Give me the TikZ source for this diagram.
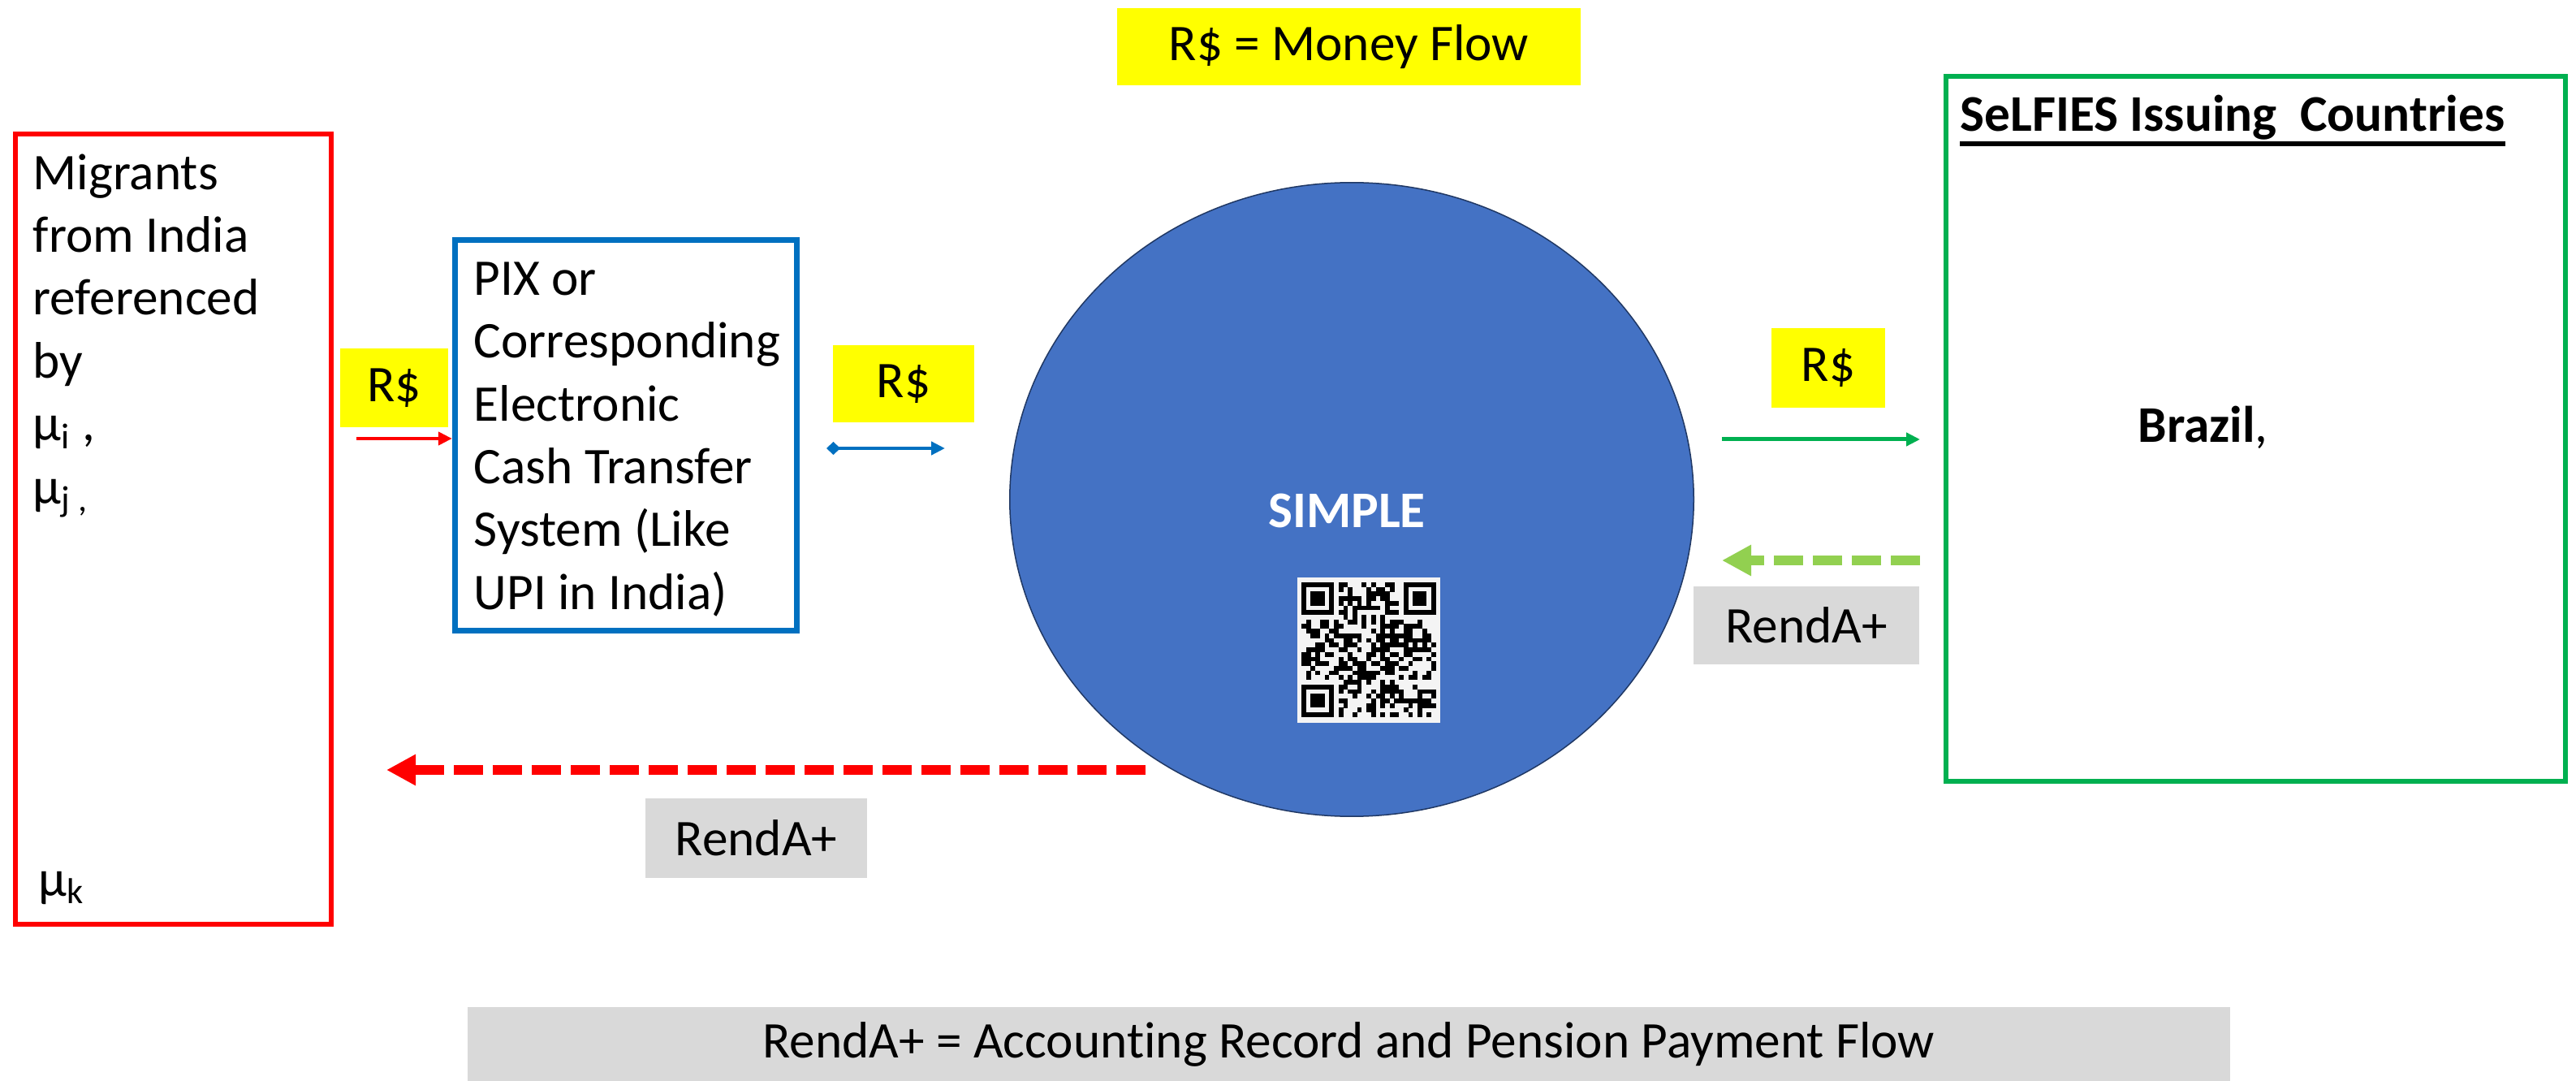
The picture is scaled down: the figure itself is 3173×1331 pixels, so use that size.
\documentclass[tikz,border=0pt]{standalone}
\usepackage{fontspec}
\setmainfont{Carlito}[Ligatures=NoCommon]
\usetikzlibrary{arrows.meta,shapes.geometric}

\definecolor{selfred}{HTML}{FF0000}
\definecolor{pixblue}{HTML}{0070C0}
\definecolor{simpleblue}{HTML}{4472C4}
\definecolor{simpleedge}{HTML}{203864}
\definecolor{selfiesgreen}{HTML}{00B050}
\definecolor{rendagreen}{HTML}{92D050}
\definecolor{moneyyellow}{HTML}{FFFF00}
\definecolor{rendagrey}{HTML}{D9D9D9}
\definecolor{qrwhite}{HTML}{F4F4F4}

\tikzstyle{flowbox}=[draw, inner sep=0pt]
\tikzstyle{boxtext}=[anchor=north west, align=left, inner sep=0pt]
\tikzstyle{money}=[fill=moneyyellow, inner sep=0pt]
\tikzstyle{renda}=[fill=rendagrey, inner sep=0pt]
\tikzstyle{cash}=[line width=0.045cm, -{Triangle[length=0.17cm,width=0.16cm]}]
\tikzstyle{record}=[line width=0.12cm, dash pattern=on 0.36cm off 0.12cm, -{Triangle[length=0.36cm,width=0.36cm]}]

\begin{document}
\begin{tikzpicture}[x=0.01cm, y=-0.01cm, font=\fontsize{18}{22}\selectfont]
  \useasboundingbox (0,0) rectangle (3173,1331);

  \node[money, minimum width=5.71cm, minimum height=0.95cm] (moneykey) at (1661.5,57.5) {R\$ = Money Flow};

  \node[flowbox, draw=selfred, line width=0.06cm, minimum width=3.89cm, minimum height=9.73cm] (migrants) at (213.5,651.5) {};
  \node[boxtext] (migtext) at (40,189) {Migrants\\from India\\referenced\\by\\μ\textsubscript{i} ,\\μ\textsubscript{j ,}};
  \node[anchor=west, inner sep=0pt] (muk) at (47,1093) {μ\textsubscript{k}};

  \node[flowbox, draw=pixblue, line width=0.07cm, minimum width=4.21cm, minimum height=4.81cm] (pix) at (771,536) {};
  \node[boxtext] (pixtext) at (583,322) {PIX or\\Corresponding\\Electronic\\Cash Transfer\\System (Like\\UPI in India)};

  \node[money, minimum width=1.33cm, minimum height=0.97cm] (rsmig) at (485.5,477.5) {R\$};
  \node[money, minimum width=1.74cm, minimum height=0.95cm] (rspix) at (1113,472.5) {R\$};
  \node[money, minimum width=1.40cm, minimum height=0.98cm] (rsselfies) at (2252,453) {R\$};

  \node[ellipse, fill=simpleblue, draw=simpleedge, line width=0.015cm, minimum width=8.42cm, minimum height=7.8cm, inner sep=0pt] (simple) at (1665,615) {};
  \node[text=white] (simplelabel) at (1659,629) {\textbf{SIMPLE}};

  \fill[qrwhite] (1598,711) rectangle (1774,890);
  \pgfmathsetseed{2024}
  \foreach \r in {0,...,28} {
    \foreach \c in {0,...,28} {
      \pgfmathtruncatemacro\qrfin{(\r<8)*(\c<8)+(\r<8)*(\c>20)+(\r>20)*(\c<8)}
      \pgfmathtruncatemacro\qrbit{rnd<0.5}
      \ifnum\qrbit=1 \ifnum\qrfin=0
        \fill (1603+\c*5.72, 717+\r*5.72) rectangle ++(5.8,5.8);
      \fi\fi
    }
  }
  \foreach \fx/\fy in {0/0, 22/0, 0/22} {
    \fill (1603+\fx*5.72, 717+\fy*5.72) rectangle ++(40.04,40.04);
    \fill[qrwhite] (1608.72+\fx*5.72, 722.72+\fy*5.72) rectangle ++(28.6,28.6);
    \fill (1614.44+\fx*5.72, 728.44+\fy*5.72) rectangle ++(17.16,17.16);
  }

  \node[flowbox, draw=selfiesgreen, line width=0.06cm, minimum width=7.63cm, minimum height=8.68cm] (selfies) at (2778.5,528) {};
  \node[anchor=base west, inner sep=0pt] (selfiestitle) at (2414,162) {\textbf{SeLFIES Issuing\ \ Countries}};
  \draw[line width=0.05cm] ([yshift=-0.15cm]selfiestitle.base west) -- ([yshift=-0.15cm]selfiestitle.base east);
  \node[anchor=base west, inner sep=0pt] (brazil) at (2633,545) {\textbf{Brazil},};

  \node[renda, minimum width=2.78cm, minimum height=0.96cm] (rendaselfies) at (2225,770) {RendA+};
  \node[renda, minimum width=2.73cm, minimum height=0.98cm] (rendamig) at (931.5,1032) {RendA+};
  \node[renda, minimum width=21.69cm, minimum height=0.91cm] (rendakey) at (1661.5,1285.5) {RendA+ = Accounting Record and Pension Payment Flow};

  \coordinate (migout) at (439,540);
  \coordinate (pixout) at (1018,552);
  \coordinate (simplein) at (1164,552);
  \coordinate (simpleout) at (2121,541);
  \coordinate (selfiesin) at (2365,541);
  \coordinate (selfiesout) at (2365,690);
  \coordinate (simpleback) at (2121,690);
  \coordinate (simplerecord) at (1411,948);
  \coordinate (migrecord) at (476,948);

  \draw[cash, selfred] (migout) -- (migout -| pix.west);
  \draw[cash, pixblue, {Diamond[length=0.17cm,width=0.16cm]}-{Triangle[length=0.17cm,width=0.16cm]}] (pixout) -- (simplein);
  \draw[cash, selfiesgreen, line width=0.05cm] (simpleout) -- (selfiesin);
  \draw[record, rendagreen] (selfiesout) -- (simpleback);
  \draw[record, selfred] (simplerecord) -- (migrecord);
\end{tikzpicture}
\end{document}
